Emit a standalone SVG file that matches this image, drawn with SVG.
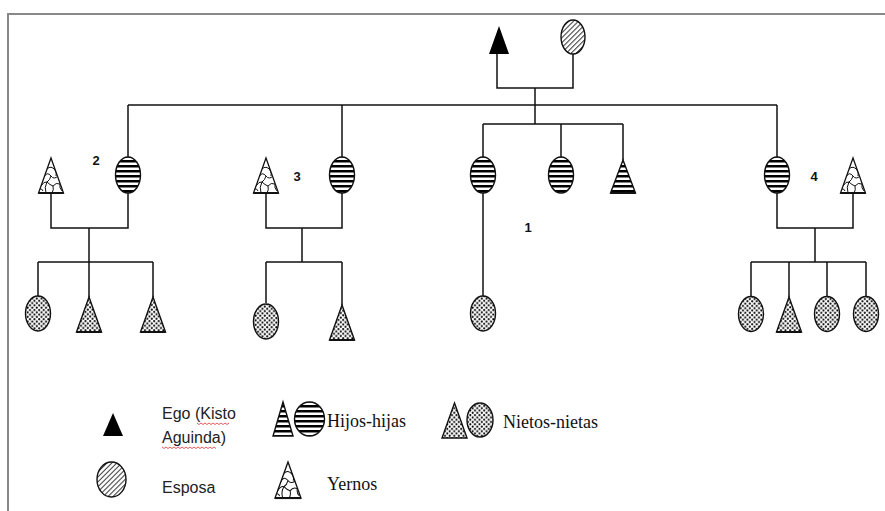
<svg xmlns="http://www.w3.org/2000/svg" width="885" height="511" viewBox="0 0 885 511">
<style>
.ln{stroke:#111;stroke-width:1.5;fill:none}
.ol{stroke:#111;stroke-width:1.4}
.num{font-family:"Liberation Sans",Arial,sans-serif;font-weight:bold;font-size:13px;fill:#111}
.sans{font-family:"Liberation Sans",Arial,sans-serif;font-size:16px;fill:#222}
.serif{font-family:"Liberation Serif","Times New Roman",serif;font-size:18px;fill:#111}
.sq{stroke:#d33;stroke-width:0.8;fill:none}
</style>
<defs>
<pattern id="stripes" width="6" height="5" patternUnits="userSpaceOnUse"><rect width="6" height="2.5" fill="#000"/></pattern>
<pattern id="dots" width="4.6" height="4.6" patternUnits="userSpaceOnUse"><circle cx="1.15" cy="1.15" r="1.05" fill="#000"/><circle cx="3.45" cy="3.45" r="1.05" fill="#000"/></pattern>
<pattern id="hatch" width="3.5" height="3.5" patternUnits="userSpaceOnUse" patternTransform="rotate(45)"><rect width="3.5" height="3.5" fill="#fff"/><line x1="0.5" y1="0" x2="0.5" y2="3.5" stroke="#333" stroke-width="1"/></pattern>
<clipPath id="triClip"><path d="M0,0 L12.5,35 L-12.5,35 Z"/></clipPath>
<g id="yerno">
<path d="M0,0 L12.5,35 L-12.5,35 Z" fill="#fff"/>
<g clip-path="url(#triClip)" fill="none" stroke="#111" stroke-width="1">
<path d="M-4,11 Q0,7 4,12 M-7,19 Q-4,13 0,18 Q3,22 7,18 M0,18 Q-1,22 -4,24 M4,12 Q6,15 5,18 M-10,28 Q-7,23 -4,24 Q-1,27 2,28 Q5,24 9,26 M2,28 Q3,32 1,35 M-4,24 Q-7,29 -5,35 M9,26 Q8,30 11,33 M-12,31 Q-9,30 -8,33"/>
</g>
<path d="M0,0 L12.5,35 L-12.5,35 Z" fill="none" stroke="#111" stroke-width="1.3"/>
<line x1="-12.5" y1="35" x2="12.5" y2="35" stroke="#111" stroke-width="2"/>
</g>
<g id="hijo"><ellipse cx="0" cy="0" rx="12.5" ry="18" fill="#fff"/><ellipse cx="0" cy="0" rx="12.5" ry="18" fill="url(#stripes)" class="ol"/></g>
<g id="nieta"><ellipse cx="0" cy="0" rx="12.5" ry="17.5" fill="#fff"/><ellipse cx="0" cy="0" rx="12.5" ry="17.5" fill="url(#dots)" class="ol"/></g>
<g id="nieto"><path d="M0,0 L12.5,35 L-12.5,35 Z" fill="#fff"/><path d="M0,0 L12.5,35 L-12.5,35 Z" fill="url(#dots)" class="ol"/><line x1="-12.5" y1="35" x2="12.5" y2="35" stroke="#111" stroke-width="2"/></g>
<g id="hijoT"><path d="M0,0 L12.5,33 L-12.5,33 Z" fill="#fff"/><path d="M0,0 L12.5,33 L-12.5,33 Z" fill="url(#stripes)" class="ol"/><line x1="-12.5" y1="33" x2="12.5" y2="33" stroke="#111" stroke-width="2"/></g>
</defs>
<rect width="885" height="511" fill="#fff"/>
<g id="frame" stroke="#888" stroke-width="2" fill="none"><path d="M8,511 L8,14 L885,14"/></g>

<g id="connectors" class="ln">
<path d="M497,54 L497,88 L573,88 L573,54"/>
<path d="M535,88 L535,124"/>
<path d="M128,105 L777,105"/>
<path d="M128,105 L128,157 M342,105 L342,157 M777,105 L777,157"/>
<path d="M483,124 L623,124 M483,124 L483,157 M561,124 L561,157 M623,124 L623,160"/>
<path d="M483,193 L483,296"/>
<path d="M51,193 L51,228 L128,228 L128,193 M89,228 L89,297 M38,262 L153,262 M38,262 L38,296 M153,262 L153,297"/>
<path d="M266,193 L266,228 L342,228 L342,193 M302,228 L302,262 M266,262 L342,262 M266,262 L266,303 M342,262 L342,305"/>
<path d="M777,193 L777,228 L853,228 L853,193 M815,228 L815,262 M751,262 L866,262 M751,262 L751,296 M789,262 L789,297 M827,262 L827,296 M866,262 L866,296"/>
</g>

<g id="ego"><path d="M499,26 L509,54 L489,54 Z" fill="#000"/></g>
<g id="esposa"><ellipse cx="573" cy="37" rx="12" ry="17" fill="url(#hatch)" class="ol"/></g>

<g id="fam1">
<use href="#hijo" x="483" y="175"/>
<use href="#hijo" x="561" y="175"/>
<use href="#hijoT" x="623" y="160"/>
<text class="num" x="528" y="232" text-anchor="middle">1</text>
<use href="#nieta" x="483" y="313.5"/>
</g>
<g id="fam2">
<use href="#yerno" x="51" y="158"/>
<use href="#hijo" x="128" y="175"/>
<text class="num" x="96" y="165" text-anchor="middle">2</text>
<use href="#nieta" x="38" y="313.5"/>
<use href="#nieto" x="89" y="297"/>
<use href="#nieto" x="153" y="297"/>
</g>
<g id="fam3">
<use href="#yerno" x="266" y="158"/>
<use href="#hijo" x="342" y="175"/>
<text class="num" x="297" y="181" text-anchor="middle">3</text>
<use href="#nieta" x="266" y="321.5"/>
<use href="#nieto" x="342" y="305"/>
</g>
<g id="fam4">
<use href="#hijo" x="777" y="175"/>
<use href="#yerno" x="853" y="158"/>
<text class="num" x="814" y="181" text-anchor="middle">4</text>
<use href="#nieta" x="751" y="314"/>
<use href="#nieto" x="789" y="297"/>
<use href="#nieta" x="827" y="314"/>
<use href="#nieta" x="866" y="314"/>
</g>

<g id="legend">
<path d="M113,413 L123,436 L103,436 Z" fill="#000"/>
<text class="sans" x="162" y="419">Ego (Kisto</text>
<text class="sans" x="162" y="443">Aguinda)</text>
<path class="sq" d="M197,423 l2,1.5 l2,-1.5 l2,1.5 l2,-1.5 l2,1.5 l2,-1.5 l2,1.5 l2,-1.5 l2,1.5 l2,-1.5 l2,1.5 l2,-1.5 l2,1.5 l2,-1.5 l2,1.5 l2,-1.5"/>
<path class="sq" d="M162,447 l2,1.5 l2,-1.5 l2,1.5 l2,-1.5 l2,1.5 l2,-1.5 l2,1.5 l2,-1.5 l2,1.5 l2,-1.5 l2,1.5 l2,-1.5 l2,1.5 l2,-1.5 l2,1.5 l2,-1.5 l2,1.5 l2,-1.5 l2,1.5 l2,-1.5 l2,1.5 l2,-1.5 l2,1.5 l2,-1.5 l2,1.5 l2,-1.5 l2,1.5"/>
<ellipse cx="111.5" cy="479.5" rx="14.5" ry="17.5" fill="url(#hatch)" class="ol"/>
<text class="sans" x="162" y="493">Esposa</text>
<path d="M283,402 L293,436 L273,436 Z" fill="#fff"/>
<path d="M283,402 L293,436 L273,436 Z" fill="url(#stripes)" class="ol"/>
<ellipse cx="309.5" cy="419" rx="15" ry="17" fill="#fff"/>
<ellipse cx="309.5" cy="419" rx="15" ry="17" fill="url(#stripes)" class="ol"/>
<text class="serif" x="327" y="427">Hijos-hijas</text>
<use href="#yerno" transform="translate(288,462) scale(1.04,1.03)"/>
<text class="serif" x="327" y="490">Yernos</text>
<path d="M454.5,403 L467,438 L442,438 Z" fill="#fff"/>
<path d="M454.5,403 L467,438 L442,438 Z" fill="url(#dots)" class="ol"/>
<ellipse cx="480" cy="420" rx="13" ry="17" fill="#fff"/>
<ellipse cx="480" cy="420" rx="13" ry="17" fill="url(#dots)" class="ol"/>
<text class="serif" x="503" y="428">Nietos-nietas</text>
</g>
</svg>
